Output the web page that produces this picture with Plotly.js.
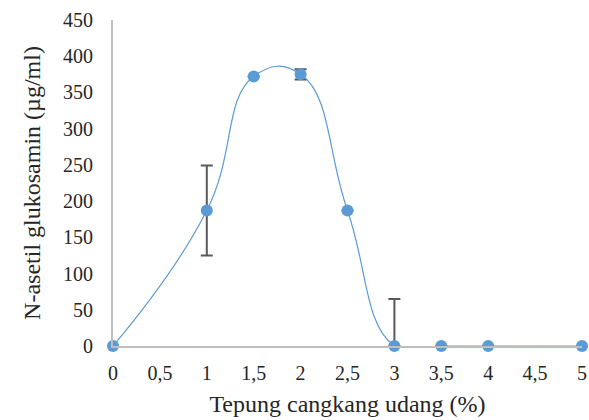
<!DOCTYPE html>
<html><head><meta charset="utf-8">
<script src="https://cdn.plot.ly/plotly-3.0.1.min.js"></script>
<style>html,body{margin:0;padding:0;background:#fff}#c{width:589px;height:420px}</style>
</head><body><div id="c"></div>
<script>
const xVals = [0, 1, 1.5, 2, 2.5, 3, 3.5, 4, 5];
const yVals = [0, 187, 372, 375, 187, 0, 0, 0, 0];
const errPlus = [0, 62, 0, 7, 0, 65, 0, 0, 0];
const errMinus = [0, 62, 0, 7, 0, 0, 0, 0, 0];
const xTicks = [0, 0.5, 1, 1.5, 2, 2.5, 3, 3.5, 4, 4.5, 5];
const xTickText = ['0', '0,5', '1', '1,5', '2', '2,5', '3', '3,5', '4', '4,5', '5'];
const yTicks = [0, 50, 100, 150, 200, 250, 300, 350, 400, 450];

const FAM = 'Liberation Serif';
const TXT = '#262626';
Plotly.newPlot('c', [{
  x: xVals, y: yVals, type: 'scatter', mode: 'lines+markers',
  line: {shape: 'spline', smoothing: 1.3, color: '#5B9BD5', width: 1.2},
  marker: {size: 12, color: '#5B9BD5'},
  cliponaxis: false,
  error_y: {type: 'data', symmetric: false, array: errPlus, arrayminus: errMinus,
            color: '#595959', thickness: 2, width: 6}
}], {
  width: 589, height: 420,
  margin: {l: 113, r: 7, t: 20, b: 74},
  paper_bgcolor: '#fff', plot_bgcolor: '#fff',
  showlegend: false,
  font: {family: FAM, color: TXT, size: 19},
  xaxis: {range: [0, 5], tickvals: xTicks, ticktext: xTickText, showgrid: false, zeroline: false,
          showline: true, linecolor: '#BFBFBF', linewidth: 2, ticks: 'outside', ticklen: 8,
          tickcolor: 'rgba(0,0,0,0)', tickfont: {family: FAM, size: 20, color: TXT},
          title: {text: 'Tepung cangkang udang (%)', font: {family: FAM, size: 24, color: TXT}, standoff: 12}},
  yaxis: {range: [0, 450], tickvals: yTicks, showgrid: false, zeroline: false,
          showline: true, linecolor: '#BFBFBF', linewidth: 2, ticks: 'outside', ticklen: 14,
          tickcolor: 'rgba(0,0,0,0)', tickfont: {family: FAM, size: 20, color: TXT},
          title: {text: 'N-asetil glukosamin (µg/ml)', font: {family: FAM, size: 24, color: TXT}, standoff: 16}}
}, {displayModeBar: false, responsive: false});
</script></body></html>
